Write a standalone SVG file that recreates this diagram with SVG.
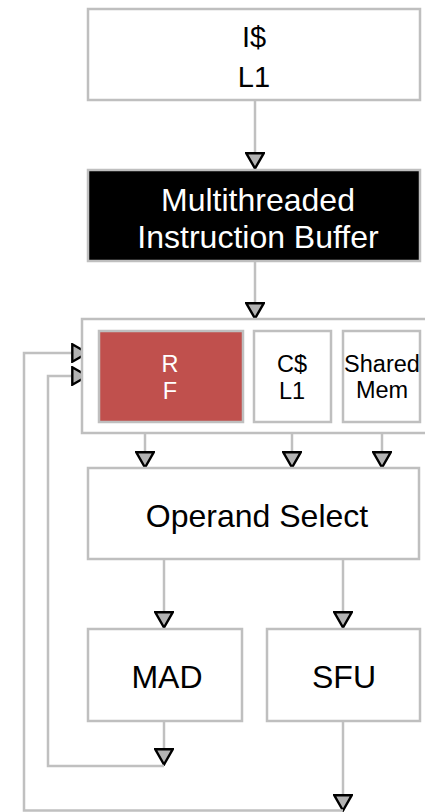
<svg xmlns="http://www.w3.org/2000/svg" width="425" height="812" viewBox="0 0 425 812">
<defs>
<style>
.box{fill:#ffffff;stroke:#bfbfbf;stroke-width:2.5}
.dark{fill:#000000;stroke:#bfbfbf;stroke-width:2.5}
.red{fill:#c0504d;stroke:#bfbfbf;stroke-width:2.5}
.big{font-family:"Liberation Sans",Arial,sans-serif;font-size:32px;text-anchor:middle;fill:#000}
.sm{font-family:"Liberation Sans",Arial,sans-serif;font-size:23.5px;text-anchor:middle;fill:#000}
.wt{fill:#ffffff}
.ln{fill:none;stroke:#c0c0c0;stroke-width:2.5}
</style>
<marker id="ah" viewBox="0 0 18 20" refX="17" refY="10" markerWidth="18" markerHeight="20" markerUnits="userSpaceOnUse" orient="auto">
<path d="M1.3,1.3 L16.5,10 L1.3,18.7 Z" fill="#b3b3b3" stroke="#000" stroke-width="2.4" stroke-linejoin="miter"/>
</marker>
</defs>
<rect width="425" height="812" fill="#ffffff"/>
<g id="connectors">
<path class="ln" d="M255,100 V169" marker-end="url(#ah)"/>
<path class="ln" d="M255,261 V319" marker-end="url(#ah)"/>
<path class="ln" d="M145,422 V468" marker-end="url(#ah)"/>
<path class="ln" d="M292,422 V468" marker-end="url(#ah)"/>
<path class="ln" d="M382,422 V468" marker-end="url(#ah)"/>
<path class="ln" d="M164,559 V628" marker-end="url(#ah)"/>
<path class="ln" d="M343,559 V628" marker-end="url(#ah)"/>
<path class="ln" d="M164,721 V765" marker-end="url(#ah)"/>
<path class="ln" d="M343,721 V811" marker-end="url(#ah)"/>
<path class="ln" d="M164,766 H48 V376 H88" marker-end="url(#ah)"/>
<path class="ln" d="M343,810.5 H24 V353 H88" marker-end="url(#ah)"/>
</g>
<g id="icache">
<rect class="box" x="88" y="9" width="332" height="91"/>
<text class="big" x="254" y="47" style="font-size:29px">I$</text>
<text class="big" x="254" y="87" style="font-size:29px">L1</text>
</g>
<g id="ibuffer">
<rect class="dark" x="88" y="170" width="332" height="91"/>
<text class="big wt" x="258" y="211">Multithreaded</text>
<text class="big wt" x="258" y="248">Instruction Buffer</text>
</g>
<g id="container">
<rect class="box" x="82" y="319" width="350" height="114"/>
</g>
<g id="rf">
<rect class="red" x="99" y="331" width="144" height="91"/>
<text class="sm wt" x="170" y="372">R</text>
<text class="sm wt" x="170" y="399">F</text>
</g>
<g id="ccache">
<rect class="box" x="254" y="331" width="77" height="91"/>
<text class="sm" x="292" y="372">C$</text>
<text class="sm" x="292" y="399">L1</text>
</g>
<g id="sharedmem">
<rect class="box" x="343" y="331" width="77" height="91"/>
<text class="sm" x="382" y="372">Shared</text>
<text class="sm" x="382" y="398">Mem</text>
</g>
<g id="operand">
<rect class="box" x="88" y="468" width="331" height="91"/>
<text class="big" x="257" y="527">Operand Select</text>
</g>
<g id="mad">
<rect class="box" x="88" y="629" width="154" height="92"/>
<text class="big" x="167" y="688">MAD</text>
</g>
<g id="sfu">
<rect class="box" x="267" y="629" width="153" height="92"/>
<text class="big" x="344" y="688">SFU</text>
</g>
</svg>
